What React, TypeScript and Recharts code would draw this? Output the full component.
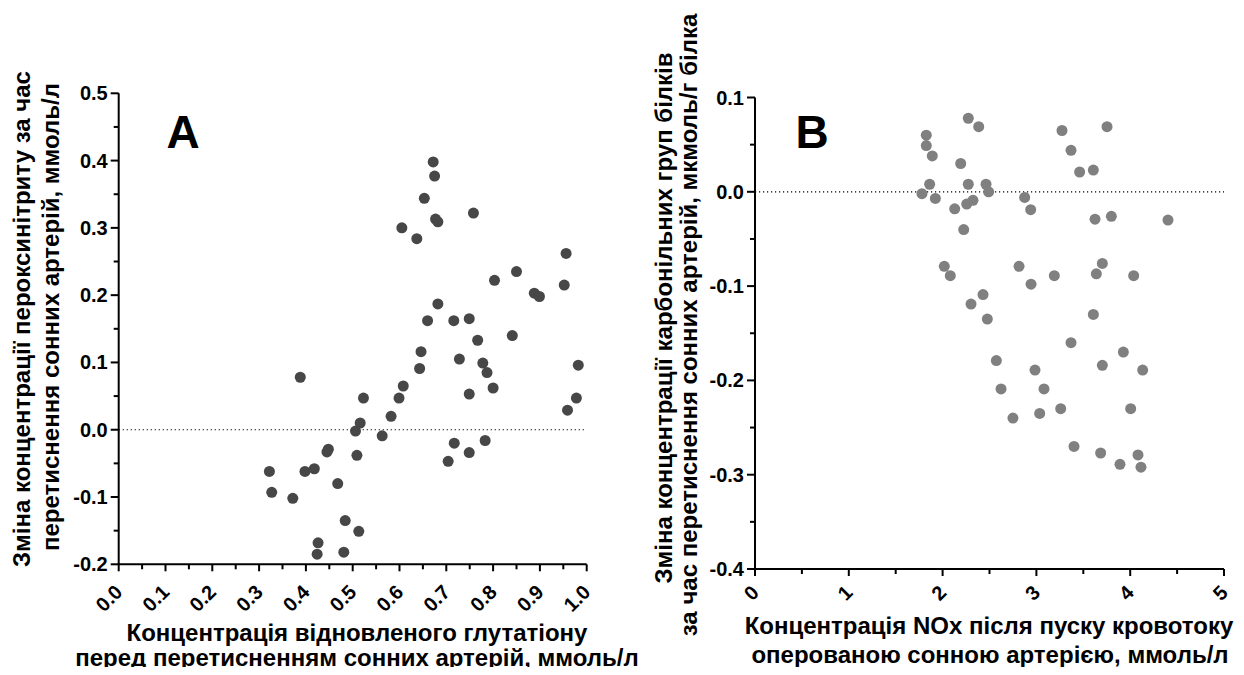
import React from 'react';
import { ScatterChart, Scatter, XAxis, YAxis, ReferenceLine } from 'recharts';

// Panel A: reduced glutathione (mmol/l) vs change of peroxynitrite (mmol/l)
const gshX = [
  0.672, 0.675, 0.653, 0.677, 0.682, 0.605, 0.637, 0.758, 0.956, 0.850,
  0.803, 0.888, 0.899, 0.952, 0.682, 0.660, 0.716, 0.749, 0.841, 0.767,
  0.646, 0.643, 0.728, 0.778, 0.787, 0.800, 0.749, 0.982, 0.978, 0.959,
  0.388, 0.608, 0.599, 0.523, 0.582, 0.516, 0.506, 0.563, 0.717, 0.783,
  0.749, 0.704, 0.448, 0.445, 0.509, 0.322, 0.398, 0.418, 0.327, 0.372,
  0.468, 0.484, 0.513, 0.426, 0.424, 0.481,
];
const peroxynitriteY = [
  0.398, 0.377, 0.344, 0.313, 0.309, 0.300, 0.284, 0.322, 0.262, 0.235,
  0.222, 0.203, 0.198, 0.215, 0.187, 0.162, 0.162, 0.165, 0.140, 0.133,
  0.116, 0.091, 0.105, 0.099, 0.085, 0.062, 0.053, 0.096, 0.047, 0.029,
  0.078, 0.065, 0.047, 0.047, 0.020, 0.010, -0.002, -0.009, -0.020, -0.016,
  -0.034, -0.047, -0.029, -0.033, -0.038, -0.062, -0.062, -0.058, -0.093, -0.102,
  -0.080, -0.135, -0.151, -0.168, -0.185, -0.182,
];

// Panel B: NOx (mmol/l) vs change of protein carbonyls (umol/g protein)
const noxX = [
  2.274, 2.385, 1.826, 1.826, 1.890, 2.193, 1.862, 2.274, 2.463, 2.491,
  1.780, 1.923, 2.324, 2.257, 2.129, 2.225, 2.875, 2.939, 3.273, 3.369,
  3.753, 3.461, 3.607, 3.625, 3.799, 4.403, 2.018, 2.082, 2.815, 2.943,
  3.191, 3.639, 3.703, 4.037, 2.431, 2.303, 2.477, 3.607, 3.369, 3.927,
  2.573, 2.985, 3.703, 4.133, 2.623, 3.081, 2.750, 3.035, 3.259, 4.005,
  3.401, 3.685, 4.083, 3.891, 4.115,
];
const carbonylY = [
  0.078, 0.069, 0.060, 0.049, 0.038, 0.030, 0.008, 0.008, 0.008, 0.000,
  -0.002, -0.007, -0.009, -0.013, -0.018, -0.040, -0.006, -0.019, 0.065, 0.044,
  0.069, 0.021, 0.023, -0.029, -0.026, -0.030, -0.079, -0.089, -0.079, -0.098,
  -0.089, -0.087, -0.076, -0.089, -0.109, -0.119, -0.135, -0.130, -0.160, -0.170,
  -0.179, -0.189, -0.184, -0.189, -0.209, -0.209, -0.240, -0.235, -0.230, -0.230,
  -0.270, -0.277, -0.279, -0.289, -0.292,
];

const aXMajor = [0, 0.1, 0.2, 0.3, 0.4, 0.5, 0.6, 0.7, 0.8, 0.9, 1.0];
const aXMinor = [0.05, 0.15, 0.25, 0.35, 0.45, 0.55, 0.65, 0.75, 0.85, 0.95];
const aYMajor = [-0.2, -0.1, 0, 0.1, 0.2, 0.3, 0.4, 0.5];
const aYMinor = [-0.15, -0.05, 0.05, 0.15, 0.25, 0.35, 0.45];
const bXMajor = [0, 1, 2, 3, 4, 5];
const bXMinor = [0.5, 1.5, 2.5, 3.5, 4.5];
const bYMajor = [-0.4, -0.3, -0.2, -0.1, 0, 0.1];
const bYMinor = [-0.35, -0.25, -0.15, -0.05, 0.05];

const FONT = '"Liberation Sans", Arial, sans-serif';

const near = (list: number[], v: number) => list.some((m) => Math.abs(m - v) < 1e-6);

interface PanelProps {
  left: number;
  width: number;
  margin: { top: number; right: number; bottom: number; left: number };
  xs: number[];
  ys: number[];
  color: string;
  xDomain: [number, number];
  yDomain: [number, number];
  xMajor: number[];
  xMinor: number[];
  yMajor: number[];
  yMinor: number[];
  xFmt: (v: number) => string;
  labelDrop: number;
}

function Panel(p: PanelProps) {
  const H = 675;
  const axisX = p.margin.left + 60;
  const axisY = H - p.margin.bottom - 40;
  const data = p.xs.map((x, i) => ({ x, y: p.ys[i] }));
  const xTicks = [...p.xMajor, ...p.xMinor].sort((a, b) => a - b);
  const yTicks = [...p.yMajor, ...p.yMinor].sort((a, b) => a - b);

  const xTick = (t: any) => {
    const major = near(p.xMajor, t.payload.value);
    const tx = t.x + 5;
    const ty = axisY + p.labelDrop;
    return (
      <g>
        <line x1={t.x} x2={t.x} y1={axisY} y2={axisY + (major ? 7 : 5)} stroke="#000" strokeWidth={2} />
        {major && (
          <text
            transform={`translate(${tx},${ty}) rotate(-45)`}
            textAnchor="end"
            fontFamily={FONT}
            fontWeight="bold"
            fontSize={20}
            fill="#000"
          >
            {p.xFmt(t.payload.value)}
          </text>
        )}
      </g>
    );
  };

  const yTick = (t: any) => {
    const major = near(p.yMajor, t.payload.value);
    return (
      <g>
        <line x1={axisX} x2={axisX - (major ? 8 : 5)} y1={t.y} y2={t.y} stroke="#000" strokeWidth={2} />
        {major && (
          <text
            x={axisX - 11}
            y={t.y}
            dy="0.35em"
            textAnchor="end"
            fontFamily={FONT}
            fontWeight="bold"
            fontSize={20}
            fill="#000"
          >
            {t.payload.value.toFixed(1)}
          </text>
        )}
      </g>
    );
  };

  return (
    <div style={{ position: 'absolute', left: p.left, top: 0 }}>
      <ScatterChart width={p.width} height={H} margin={p.margin}>
        <XAxis
          type="number"
          dataKey="x"
          domain={p.xDomain}
          ticks={xTicks}
          interval={0}
          height={40}
          axisLine={{ stroke: '#000', strokeWidth: 2 }}
          tickLine={false}
          tick={xTick}
        />
        <YAxis
          type="number"
          dataKey="y"
          domain={p.yDomain}
          ticks={yTicks}
          interval={0}
          width={60}
          axisLine={{ stroke: '#000', strokeWidth: 2 }}
          tickLine={false}
          tick={yTick}
        />
        <ReferenceLine y={0} stroke="#000" strokeWidth={1.2} strokeDasharray="1.2 2.8" />
        <Scatter
          data={data}
          isAnimationActive={false}
          shape={(s: any) => <circle cx={s.cx} cy={s.cy} r={5.5} fill={p.color} />}
        />
      </ScatterChart>
    </div>
  );
}

export default function App() {
  const title = { fontFamily: FONT, fontWeight: 'bold' as const, fontSize: 24, fill: '#000' };
  return (
    <div style={{ position: 'relative', width: 1244, height: 675, margin: -8, background: '#fff', overflow: 'hidden' }}>
      <Panel
        left={0}
        width={620}
        margin={{ top: 93.3, right: 33.3, bottom: 70.7, left: 58.7 }}
        xs={gshX}
        ys={peroxynitriteY}
        color="#474747"
        xDomain={[0, 1]}
        yDomain={[-0.2, 0.5]}
        xMajor={aXMajor}
        xMinor={aXMinor}
        yMajor={aYMajor}
        yMinor={aYMinor}
        xFmt={(v) => v.toFixed(1)}
        labelDrop={29}
      />
      <Panel
        left={640}
        width={604}
        margin={{ top: 97.5, right: 20, bottom: 66, left: 55 }}
        xs={noxX}
        ys={carbonylY}
        color="#808080"
        xDomain={[0, 5]}
        yDomain={[-0.4, 0.1]}
        xMajor={bXMajor}
        xMinor={bXMinor}
        yMajor={bYMajor}
        yMinor={bYMinor}
        xFmt={(v) => String(v)}
        labelDrop={25}
      />
      <svg width={1244} height={675} style={{ position: 'absolute', left: 0, top: 0, pointerEvents: 'none' }}>
        <text x={183} y={148} textAnchor="middle" fontFamily={FONT} fontWeight="bold" fontSize={46}>A</text>
        <text x={812} y={148} textAnchor="middle" fontFamily={FONT} fontWeight="bold" fontSize={46}>B</text>

        <text transform="translate(30,319) rotate(-90)" textAnchor="middle" {...title}>
          Зміна концентрації пероксинітриту за час
        </text>
        <text transform="translate(59,317) rotate(-90)" textAnchor="middle" {...title}>
          перетиснення сонних артерій, ммоль/л
        </text>
        <text x={357} y={641} textAnchor="middle" {...title}>Концентрація відновленого глутатіону</text>
        <text x={357} y={666} textAnchor="middle" {...title}>перед перетисненням сонних артерій, ммоль/л</text>

        <text transform="translate(672,318) rotate(-90)" textAnchor="middle" {...title}>
          Зміна концентрації карбонільних груп білків
        </text>
        <text transform="translate(697,325) rotate(-90)" textAnchor="middle" {...title}>
          за час перетиснення сонних артерій, мкмоль/г білка
        </text>
        <text x={989} y={634} textAnchor="middle" {...title}>Концентрація NOx після пуску кровотоку</text>
        <text x={990} y={663} textAnchor="middle" {...title}>оперованою сонною артерією, ммоль/л</text>
      </svg>
    </div>
  );
}
